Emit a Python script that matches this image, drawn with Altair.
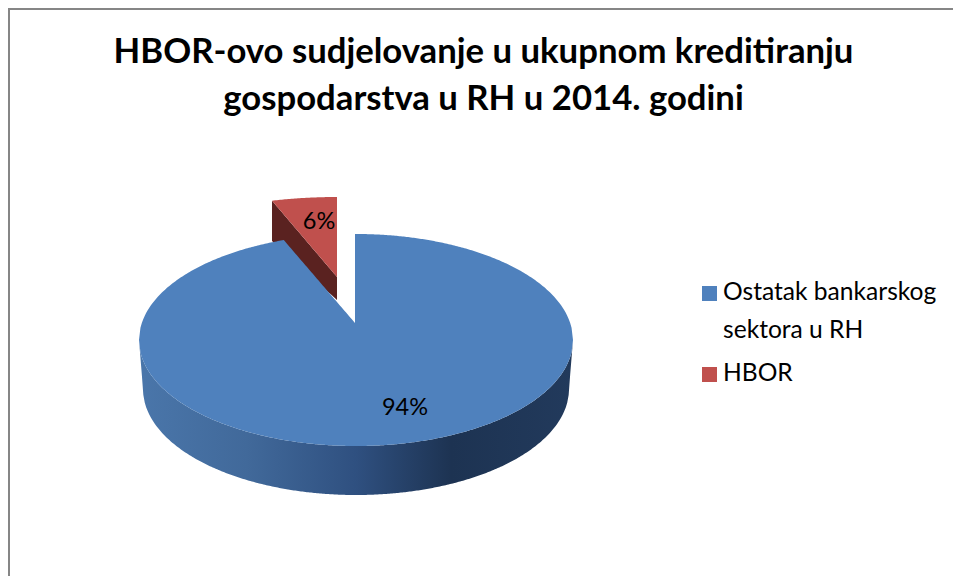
import math
import altair as alt
import pandas as pd

# ---- values
categories = ["Ostatak bankarskog sektora u RH", "HBOR"]
shares = [94, 6]
share_labels = ["94%", "6%"]
legend_lines = ["Ostatak bankarskog", "sektora u RH", "HBOR"]
title_lines = ["HBOR-ovo sudjelovanje u ukupnom kreditiranju",
               "gospodarstva u RH u 2014. godini"]

# ---- drawing constants (page pixels)
W, H = 945, 568
CX, CY, RX, RY = 356, 340, 217, 106
APEX = (355, 323)
DEPTH_CX, DEPTH_CY, DEPTH_RX, DEPTH_RY = 356, 389, 213, 106
PERSP = 0.9
BLUE, RED = "#4F81BD", "#C0504D"
DARK_RED = "#5a2220"
OFF = (337 - 355, 277 - 323)  # explosion of the small slice


def px(x):
    return x - 8


def py(y):
    return y - 8


slice_deg = shares[1] / sum(shares) * 360 * PERSP


def half(x):
    return RY * math.sqrt(max(0.0, 1 - ((x - CX) / RX) ** 2))


t = math.radians(-slice_deg)
lx, ly = CX + RX * math.sin(t), CY - RY * math.cos(t)

# main face: upper and lower edge per x
steps = 300
xs = [CX - RX + 2 * RX * i / steps for i in range(steps + 1)]
xs += [lx, APEX[0], APEX[0] + 0.01]
xs.sort()
rows = []
for x in xs:
    if x < lx or x > APEX[0]:
        up = CY - half(x)
    else:
        up = ly + (APEX[1] - ly) * (x - lx) / (APEX[0] - lx)
    rows.append({"x": px(x), "y": py(up), "y2": py(CY + half(x)), "cat": categories[0]})
face_main = pd.DataFrame(rows)

# side wall
side = []
for i in range(steps + 1):
    x = CX - RX + 2 * RX * i / steps
    up = CY + half(x)
    q = (x - DEPTH_CX) / DEPTH_RX
    if abs(q) < 1:
        low = DEPTH_CY + DEPTH_RY * math.sqrt(1 - q * q)
    else:
        low = CY + (DEPTH_CY - CY) * (RX - abs(x - CX)) / (RX - DEPTH_RX)
    side.append({"x": px(x), "y": py(up), "y2": py(max(up, low))})
side = pd.DataFrame(side)

# exploded slice
ax, ay = APEX[0] + OFF[0], APEX[1] + OFF[1]
sx0 = 272
small_rows = []
sy0 = ay - 80 * math.sqrt(1 - ((sx0 - ax) / RX) ** 2)
for i in range(41):
    x = sx0 + (ax - sx0) * i / 40
    top = ay - 80 * math.sqrt(1 - ((x - ax) / RX) ** 2)
    diag = sy0 + (ay - sy0) * i / 40
    small_rows.append({"x": px(x), "y": py(top), "y2": py(diag), "cat": categories[1],
                       "dy": py(diag), "dy2": py(241 + (300 - 241) * i / 40)})
small = pd.DataFrame(small_rows)

lab = pd.DataFrame({"x": [px(405), px(319)], "y": [py(408), py(222)], "t": share_labels})
frame = pd.DataFrame({"x": [1, 1, W], "y": [H, 1, 1], "o": [0, 1, 2]})
swatches = pd.DataFrame({"x": [px(709.5), px(709.5)], "y": [py(293.5), py(374.5)], "cat": categories})
legend_text = pd.DataFrame({"x": [px(723)] * 3, "y": [py(293), py(331), py(374)], "t": legend_lines})

XS = alt.Scale(domain=[0, W], nice=False)
YS = alt.Scale(domain=[H, 0], nice=False)
X = alt.X("x:Q", scale=XS, axis=None)
Y = alt.Y("y:Q", scale=YS, axis=None)
COLOR = alt.Color("cat:N", scale=alt.Scale(domain=categories, range=[BLUE, RED]), legend=None)

grad = alt.Gradient(gradient="linear", x1=0, x2=1, y1=0, y2=0,
                    stops=[alt.GradientStop(offset=0, color="#4a76aa"),
                           alt.GradientStop(offset=0.25, color="#41699a"),
                           alt.GradientStop(offset=0.5, color="#2f5080"),
                           alt.GradientStop(offset=0.72, color="#1d3352"),
                           alt.GradientStop(offset=1, color="#223a5c")])

frame_l = alt.Chart(frame).mark_line(color="#868686", strokeWidth=2, clip=False).encode(
    x=X, y=Y, order="o:Q")
dark = alt.Chart(small).mark_area(color=DARK_RED).encode(
    x=X, y=alt.Y("dy:Q", scale=YS, axis=None), y2="dy2:Q")
red = alt.Chart(small).mark_area().encode(x=X, y=Y, y2="y2:Q", color=COLOR)
side_l = alt.Chart(side).mark_area(fill=grad).encode(x=X, y=Y, y2="y2:Q")
main = alt.Chart(face_main).mark_area().encode(x=X, y=Y, y2="y2:Q", color=COLOR)
text = alt.Chart(lab).mark_text(font="Lato", fontSize=23.5, color="#000000").encode(x=X, y=Y, text="t:N")
sw = alt.Chart(swatches).mark_square(size=225, opacity=1, filled=True).encode(x=X, y=Y, color=COLOR)
lt = alt.Chart(legend_text).mark_text(font="Lato", fontSize=24.6, color="#000000", align="left").encode(
    x=X, y=Y, text="t:N")

chart = alt.layer(frame_l, dark, red, side_l, main, text, sw, lt).properties(
    width=W, height=H,
    padding=0,
    autosize=alt.AutoSizeParams(type="none"),
    title=alt.TitleParams(text=title_lines, font="Lato", fontSize=34.7, fontWeight="bold",
                          color="#000000", anchor="middle", lineHeight=47.5, offset=-113, dx=3),
).configure_view(stroke=None)

chart.save("out.html", embed_options={"renderer": "svg", "actions": False})
